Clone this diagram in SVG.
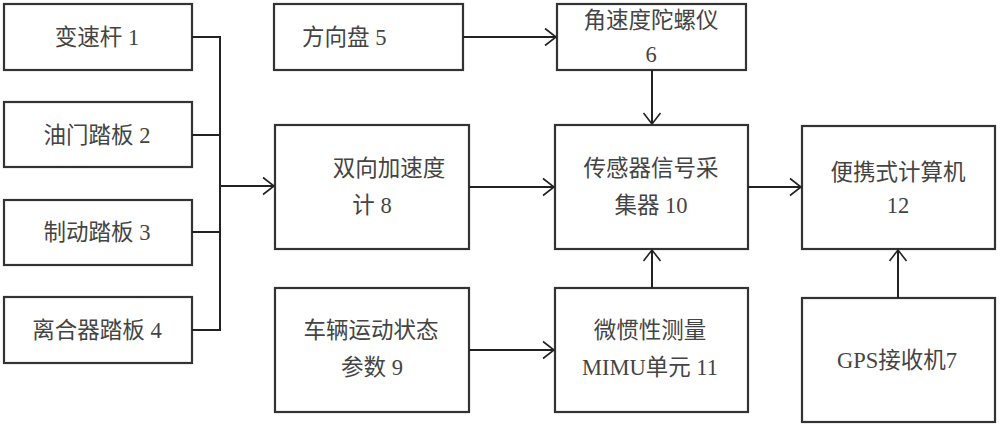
<svg xmlns="http://www.w3.org/2000/svg" width="1000" height="426" viewBox="0 0 1000 426">
<defs>
<marker id="arr" markerUnits="userSpaceOnUse" markerWidth="14" markerHeight="20" refX="12" refY="10" orient="auto" viewBox="0 0 14 20">
<path d="M1,1.5 L12,10 L1,18.5" fill="none" stroke="#222" stroke-width="1.6"/>
</marker>
</defs>
<style>
rect{fill:#fff;stroke:#333;stroke-width:2.2}
text{font-family:"Liberation Serif","Noto Sans CJK SC",serif;font-size:22.5px;fill:#444;dominant-baseline:central}
.c{text-anchor:middle}
.ln{fill:none;stroke:#222;stroke-width:2}
</style>
<rect x="0" y="0" width="1000" height="426" style="fill:#fff;stroke:none"/>
<g id="n1"><rect x="4" y="4" width="188" height="66"/><text class="c" x="97" y="37">变速杆 1</text></g>
<g id="n2"><rect x="4" y="102" width="188" height="65"/><text class="c" x="97" y="135">油门踏板 2</text></g>
<g id="n3"><rect x="4" y="200" width="188" height="65"/><text class="c" x="97" y="232">制动踏板 3</text></g>
<g id="n4"><rect x="4" y="297" width="188" height="66"/><text class="c" x="97" y="330">离合器踏板 4</text></g>
<g id="n5"><rect x="274" y="4" width="189" height="66"/><text x="302" y="37">方向盘 5</text></g>
<g id="n6"><rect x="557" y="4" width="189" height="66"/><text class="c" x="651" y="20">角速度陀螺仪</text><text class="c" x="651" y="54">6</text></g>
<g id="n8"><rect x="275" y="125" width="194" height="124"/><text class="c" x="389" y="168">双向加速度</text><text class="c" x="372" y="205">计 8</text></g>
<g id="n9"><rect x="275" y="288" width="194" height="124"/><text class="c" x="371" y="330">车辆运动状态</text><text class="c" x="372" y="367">参数 9</text></g>
<g id="n10"><rect x="555" y="125" width="193" height="124"/><text class="c" x="651" y="168">传感器信号采</text><text class="c" x="651" y="205">集器 10</text></g>
<g id="n11"><rect x="555" y="288" width="193" height="124"/><text class="c" x="650" y="330">微惯性测量</text><text class="c" x="650" y="367">MIMU单元 11</text></g>
<g id="n12"><rect x="802" y="126" width="193" height="123"/><text class="c" x="898" y="172">便携式计算机</text><text class="c" x="898" y="205">12</text></g>
<g id="n7"><rect x="802" y="298" width="193" height="124"/><text class="c" x="897" y="360">GPS接收机7</text></g>
<g id="connectors">
<path class="ln" d="M192,37 H220 V330 H192 M192,135 H220 M192,232 H220"/>
<path class="ln" d="M220,186 H274" marker-end="url(#arr)"/>
<path class="ln" d="M463,37 H556" marker-end="url(#arr)"/>
<path class="ln" d="M652,70 V124" marker-end="url(#arr)"/>
<path class="ln" d="M469,187 H554" marker-end="url(#arr)"/>
<path class="ln" d="M748,187 H801" marker-end="url(#arr)"/>
<path class="ln" d="M652,288 V250" marker-end="url(#arr)"/>
<path class="ln" d="M469,350 H554" marker-end="url(#arr)"/>
<path class="ln" d="M898,298 V250" marker-end="url(#arr)"/>
</g>
</svg>
